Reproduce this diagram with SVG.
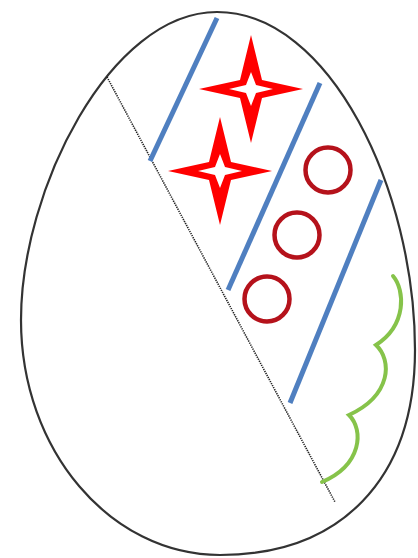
<svg xmlns="http://www.w3.org/2000/svg" width="418" height="558" viewBox="0 0 418 558">
<style>
.egg{fill:#fff;stroke:#333;stroke-width:2.2}
.dot{fill:none;stroke:#222;stroke-width:1.6;stroke-dasharray:1.3 1}
.blue{fill:none;stroke:#4F7FC0;stroke-width:5;stroke-linecap:butt}
.ring{fill:none;stroke:#B5121B;stroke-width:4.5}
.starO{fill:#FF0000}
.starI{fill:#fff}
.green{fill:none;stroke:#86C34A;stroke-width:4;stroke-linecap:round;stroke-linejoin:miter}
</style>
<defs>
<g id="star">
<path class="starO" d="M0,-54 L11,-9 L52,0 L11,9 L0,54 L-11,9 L-52,0 L-11,-9 Z"/>
<path class="starI" d="M0,-17 L5,-4 L22,0 L5,4 L0,17 L-5,4 L-22,0 L-5,-4 Z"/>
</g>
</defs>
<rect width="418" height="558" fill="#fff"/>
<g id="egg">
<path class="egg" d="M217,12 C330,12 415,190 415,350 C415,480 340,555 220,555 C110,555 21,450 21,320 C21,190 110,12 217,12 Z"/>
</g>
<g id="divider">
<path class="dot" d="M107,77 L335,502"/>
</g>
<g id="lines">
<path class="blue" d="M217,18 L150,161"/>
<path class="blue" d="M320,83 L228,290"/>
<path class="blue" d="M381,180 L290,403"/>
</g>
<g id="stars">
<use href="#star" x="251" y="89"/>
<use href="#star" x="220" y="171"/>
</g>
<g id="circles">
<circle class="ring" cx="328" cy="170" r="22.5"/>
<circle class="ring" cx="297" cy="235" r="22.5"/>
<circle class="ring" cx="267" cy="299" r="22.5"/>
</g>
<g id="scallops">
<path class="green" d="M393,276 C405,290 407,325 376,345 C392,360 392,395 349,415 C364,430 362,465 322,482"/>
</g>
</svg>
